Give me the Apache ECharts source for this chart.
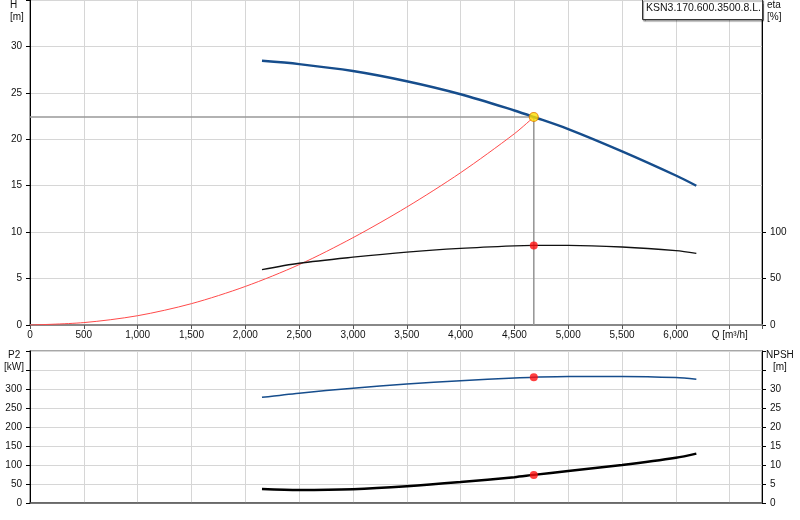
<!DOCTYPE html>
<html>
<head>
<meta charset="utf-8">
<script src="https://cdn.jsdelivr.net/npm/echarts@6/dist/echarts.min.js"></script>
<style>html,body{margin:0;padding:0;background:#fff}#c{width:800px;height:520px}</style>
</head>
<body>
<div id="c"></div>
<script>
// ---- data ----
const curveQ   = [2155, 2500, 3000, 3500, 4000, 4500, 4680, 5000, 5500, 6000, 6190];
const headH    = [28.45, 28.1, 27.35, 26.25, 24.85, 23.1, 22.4, 21.1, 18.7, 16.1, 15.0];
const etaPct   = [59.6, 66.5, 73.0, 78.5, 82.5, 85.2, 85.7, 85.8, 84.0, 80.0, 77.2];
const powerP2  = [278, 289, 302, 313, 322, 329, 331, 333, 333, 330, 325.5];
const npshM    = [3.7, 3.45, 3.65, 4.4, 5.5, 6.8, 7.4, 8.4, 10.0, 11.9, 13.0];
const systemQ  = [0, 500, 1000, 1500, 2000, 2500, 3000, 3500, 4000, 4500, 4680];
const systemH  = [0, 0.26, 1.0, 2.3, 4.15, 6.5, 9.4, 12.7, 16.4, 20.6, 22.4];
const dutyQ = 4680, dutyH = 22.4, dutyEta = 85.7, dutyP2 = 331, dutyNPSH = 7.4;
const pumpName = 'KSN3.170.600.3500.8.L.';
const qAxisName = 'Q [m³/h]';

const zip = (xs, ys) => xs.map((x, i) => [x, ys[i]]);
const FONT = 'Liberation Sans, Arial, sans-serif';
const lbl = {fontFamily: FONT, fontSize: 10, color: '#111'};
const gridLine = {show: true, lineStyle: {color: '#d6d6d6', width: 1}};
const fmtQ = v => v === 6500 ? qAxisName : (v > 6500 ? '' : v.toLocaleString('en-US'));
const smoothLine = {symbol: 'none', smooth: 0.3};

const chart = echarts.init(document.getElementById('c'), null, {renderer: 'canvas'});
chart.setOption({
  animation: false,
  backgroundColor: '#fff',
  grid: [
    {left: 30, right: 38, top: 0, height: 325, show: true, borderColor: '#8a8a8a', borderWidth: 1.5, backgroundColor: 'transparent'},
    {left: 30, right: 38, top: 351, height: 152, show: true, borderColor: '#8a8a8a', borderWidth: 1.5, backgroundColor: 'transparent'}
  ],
  xAxis: [
    {type: 'value', gridIndex: 0, min: 0, max: 6800, interval: 500,
     axisLine: {show: true, onZero: false, lineStyle: {color: '#888', width: 2}},
     axisTick: {show: true, length: 4, lineStyle: {color: '#555'}},
     axisLabel: Object.assign({margin: 5, formatter: fmtQ, showMaxLabel: true}, lbl),
     splitLine: gridLine},
    {type: 'value', gridIndex: 1, min: 0, max: 6800, interval: 500,
     axisLine: {show: true, onZero: false, lineStyle: {color: '#555', width: 1.5}},
     axisTick: {show: false}, axisLabel: {show: false},
     splitLine: gridLine}
  ],
  yAxis: [
    {type: 'value', gridIndex: 0, min: 0, max: 35, interval: 5, position: 'left',
     axisLine: {show: true, onZero: false, lineStyle: {color: '#000', width: 1}},
     axisTick: {show: true, length: 4, lineStyle: {color: '#000'}},
     axisLabel: Object.assign({margin: 8, formatter: v => v >= 35 ? '' : String(v)}, lbl),
     splitLine: gridLine},
    {type: 'value', gridIndex: 0, min: 0, max: 350, interval: 50, position: 'right',
     axisLine: {show: true, onZero: false, lineStyle: {color: '#000', width: 1}},
     axisTick: {show: true, length: 4, customValues: [0, 50, 100], lineStyle: {color: '#000'}},
     axisLabel: Object.assign({margin: 8, customValues: [0, 50, 100], formatter: v => v > 100 ? '' : String(v)}, lbl),
     splitLine: {show: false}},
    {type: 'value', gridIndex: 1, min: 0, max: 400, interval: 50, position: 'left',
     axisLine: {show: true, onZero: false, lineStyle: {color: '#000', width: 1}},
     axisTick: {show: true, length: 4, lineStyle: {color: '#000'}},
     axisLabel: Object.assign({margin: 8, formatter: v => v >= 350 ? '' : String(v)}, lbl),
     splitLine: gridLine},
    {type: 'value', gridIndex: 1, min: 0, max: 40, interval: 5, position: 'right',
     axisLine: {show: true, onZero: false, lineStyle: {color: '#000', width: 1}},
     axisTick: {show: true, length: 4, lineStyle: {color: '#000'}},
     axisLabel: Object.assign({margin: 8, formatter: v => v >= 35 ? '' : String(v)}, lbl),
     splitLine: {show: false}}
  ],
  series: [
    {type: 'line', xAxisIndex: 0, yAxisIndex: 0, z: 2, symbol: 'none', silent: true,
     data: [[0, dutyH], [dutyQ, dutyH], [dutyQ, 0]],
     lineStyle: {color: '#999', width: 1.6}},
    Object.assign({type: 'line', xAxisIndex: 0, yAxisIndex: 0, z: 3,
     data: zip(systemQ, systemH), lineStyle: {color: '#ff4a4a', width: 1}}, smoothLine),
    Object.assign({type: 'line', xAxisIndex: 0, yAxisIndex: 1, z: 4,
     data: zip(curveQ, etaPct), lineStyle: {color: '#111', width: 1.3}}, smoothLine),
    Object.assign({type: 'line', xAxisIndex: 0, yAxisIndex: 0, z: 5,
     data: zip(curveQ, headH), lineStyle: {color: '#164d8c', width: 2.4}}, smoothLine),
    {type: 'scatter', xAxisIndex: 0, yAxisIndex: 0, z: 6, symbolSize: 9,
     data: [[dutyQ, dutyH]], itemStyle: {color: '#ffe000', borderColor: '#e07a00', borderWidth: 1.2}},
    {type: 'scatter', xAxisIndex: 0, yAxisIndex: 1, z: 6, symbolSize: 8,
     data: [[dutyQ, dutyEta]], itemStyle: {color: '#ff1010'}},
    Object.assign({type: 'line', xAxisIndex: 1, yAxisIndex: 2, z: 4,
     data: zip(curveQ, powerP2), lineStyle: {color: '#164d8c', width: 1.5}}, smoothLine),
    Object.assign({type: 'line', xAxisIndex: 1, yAxisIndex: 3, z: 4,
     data: zip(curveQ, npshM), lineStyle: {color: '#000', width: 2.5}}, smoothLine),
    {type: 'scatter', xAxisIndex: 1, yAxisIndex: 2, z: 6, symbolSize: 8,
     data: [[dutyQ, dutyP2]], itemStyle: {color: '#ff1010'}},
    {type: 'scatter', xAxisIndex: 1, yAxisIndex: 3, z: 6, symbolSize: 8,
     data: [[dutyQ, dutyNPSH]], itemStyle: {color: '#ff1010'}}
  ],
  graphic: [
    {type: 'text', left: 10, top: 0, style: {text: 'H', font: '10px ' + FONT, fill: '#111'}},
    {type: 'text', left: 10, top: 12, style: {text: '[m]', font: '10px ' + FONT, fill: '#111'}},
    {type: 'text', left: 767, top: 0, style: {text: 'eta', font: '10px ' + FONT, fill: '#111'}},
    {type: 'text', left: 767, top: 12, style: {text: '[%]', font: '10px ' + FONT, fill: '#111'}},
    {type: 'text', left: 8, top: 350, style: {text: 'P2', font: '10px ' + FONT, fill: '#111'}},
    {type: 'text', left: 4, top: 362, style: {text: '[kW]', font: '10px ' + FONT, fill: '#111'}},
    {type: 'text', left: 766, top: 350, style: {text: 'NPSH', font: '10px ' + FONT, fill: '#111'}},
    {type: 'text', left: 773, top: 362, style: {text: '[m]', font: '10px ' + FONT, fill: '#111'}},
    {type: 'rect', left: 642, top: -1, z: 100,
     shape: {width: 120, height: 20},
     style: {fill: '#fff', stroke: '#333', lineWidth: 1, shadowColor: 'rgba(0,0,0,0.45)', shadowOffsetX: 1, shadowOffsetY: 1.5, shadowBlur: 1}},
    {type: 'text', left: 646, top: 3, z: 101, style: {text: pumpName, font: '10.5px ' + FONT, fill: '#111'}}
  ]
});
</script>
</body>
</html>
